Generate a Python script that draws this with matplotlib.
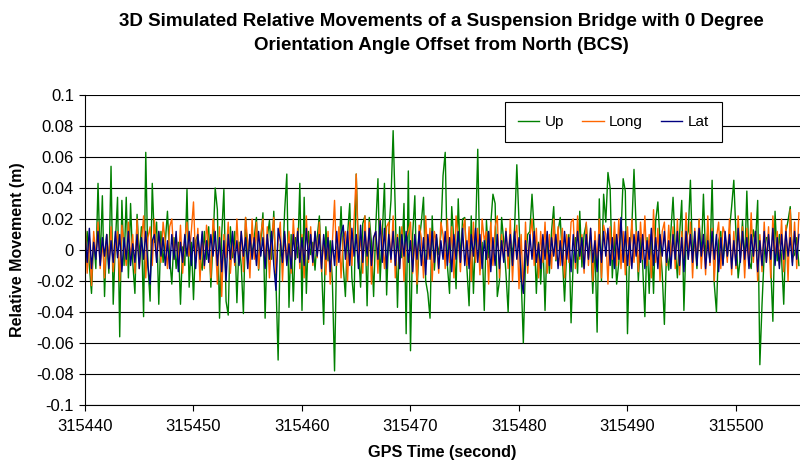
import numpy as np
import matplotlib
matplotlib.use("Agg")
from matplotlib import pyplot as plt
from matplotlib.ticker import FormatStrFormatter, MultipleLocator

plt.rcParams["font.family"] = ["Liberation Sans", "DejaVu Sans"]
plt.rcParams["axes.unicode_minus"] = False

# GPS time: 5 samples per second starting at 315440
t_start = 315440
t_step = 0.2

# relative movements in mm, 5 values per second
up_mm = [
    -5, 12, -10, -28, 8,   -12, 43, -8, 35, -30,   10, -15, 54, -35, 5,
    34, -56, 32, -10, 34,  -18, 30, -8, -28, 23,   -5, 15, -43, 63, -10,
    -33, 43, 5, 18, -35,   12, -8, 5, 25, -5,      -22, 8, -12, 5, -35,
    2, -10, 39, -24, 5,    -32, 6, 10, -5, -13,    12, -6, 15, -24, 5,
    40, 26, -44, 10, 39,   -33, -42, 15, -5, 12,   -34, 5, -10, -41, 21,
    -8, 10, -3, 8, 21,     -13, 5, 24, -44, 8,     19, -6, 25, -20, -71,
    4, -10, 25, 49, -37,   10, -33, 8, -5, 43,     -39, 34, -28, 12, -3,
    5, -13, 8, 22, -10,    -48, 15, -7, 6, -20,    -78, 2, -5, 28, -10,
    -30, 10, 30, -18, -34, 49, 0, -24, 17, 22,     -36, 21, 5, -30, 15,
    46, -20, 10, 43, -29,  12, 32, 77, 25, -37,    15, -5, 30, -54, 51,
    -65, 10, 35, -28, 5,   18, 34, -20, -28, -44,   22, -13, 8, -3, 10,
    48, 63, -10, -28, 28,  5, -25, 33, -8, 20,     21, -12, -36, 22, -28,
    10, 65, -13, 5, -39,   19, -5, 17, 36, 30,     -30, -20, 21, 5, -15,
    -40, 6, -3, 15, 55,    19, -18, -60, -7, 10,   12, 36, 12, -28, 5,
    -22, 8, -39, 10, -15,  12, 28, -7, 12, 21,     -5, -33, 0, 10, -47,
    -7, 8, -15, 25, -11,   10, 17, -5, 8, -28,     5, -53, 33, -20, 36,
    18, 50, 40, -18, 10,   -22, -8, 10, 46, 38,    -54, 0, 15, 52, 14,
    -20, 8, -10, -43, 8,   -28, 10, -28, 19, 31,   5, -15, -48, 0, -13,
    12, 34, 2, -18, 10,    32, -39, 6, 12, 45,     -7, 8, -12, 19, -5,
    36, -5, 12, -8, 45,    -22, -40, 6, 12, -9,    8, -5, 13, 28, 45,
    10, -18, -5, 19, -10,  38, -7, -12, 13, 5,     32, -74, -35, -3, 8,
    8, -10, -46, 25, -7,   10, -5, -35, 12, 19,    28, -5, -3, 8, -10,
]

long_mm = [
    21, -15, 8, -23, 12,   -5, 18, -12, 6, -18,    10, -8, 15, -14, 3,
    12, -20, 16, 4, -10,   18, -6, 10, -15, 20,    -12, 5, 22, -18, 8,
    15, -10, 20, -5, 12,   -8, 18, 5, -12, 15,     20, -6, 10, -10, 16,
    -15, 8, 18, -4, 12,    31, -8, 14, -20, 10,    -12, 16, 5, -18, 20,
    8, -22, 15, -30, 10,   -5, 18, -15, 6, -10,    20, -8, 12, -14, 21,
    5, -18, 20, -6, 18,    -12, 10, 20, -10, 15,   -18, 8, 21, -15, 6,
    18, -20, 10, -8, 12,   -15, 20, -6, 14, -12,   10, -18, 22, -8, 15,
    -10, 12, -5, 18, -14,  8, -16, 12, -22, 5,     32, -10, 15, -18, 8,
    12, -20, 18, -10, 20,  49, -8, 10, -15, 22,    -10, 18, -22, 8, 12,
    -15, 20, 5, -12, 15,   18, -8, 22, -18, 10,    -12, 15, -20, 8, 12,
    18, -15, 10, -22, 16,  8, -18, 22, -6, 14,     -20, 12, 5, -15, 18,
    10, -12, 20, -8, 15,   -18, 22, 8, -14, 12,    20, -10, 15, -20, 18,
    -8, 14, -16, 20, 6,    12, -22, 18, -10, 15,   22, -18, 10, -6, 14,
    -12, 20, -20, 8, 16,   -25, 10, -28, 18, -15,  8, 20, -10, 14, -18,
    12, -8, 18, -15, 10,   -12, 20, -6, 15, -10,   14, -18, 10, -8, 18,
    20, -12, 22, -6, 10,   -15, 18, -10, 14, -20,  12, -8, 20, -18, 16,
    10, -22, 15, -6, 18,   -10, 20, -12, 12, -16,  15, -10, 20, -8, 12,
    -14, 18, -6, 22, -10,  10, -18, 26, -8, 14,    -20, 12, 18, -10, 16,
    -8, 15, -12, 20, -16,  12, -10, 24, -6, 18,    -18, 14, -8, 20, -12,
    10, -16, 22, -10, 14,  -20, 8, 18, -12, 15,    10, -8, 20, -16, 12,
    -12, 22, -6, 15, -18,  14, -10, 24, -8, 12,    -20, 10, -14, 18, -8,
    15, -18, 22, -6, 12,   -10, 20, -14, 16, -20,  26, -8, 18, -12, 24,
]

lat_mm = [
    10, -8, 14, -12, 5,    -6, 12, -10, 8, -4,     10, -12, 6, -8, 12,
    -5, 10, -14, 8, -6,    12, -10, 4, -8, 10,     -12, 8, -6, 12, -10,
    -22, 6, 10, -8, 12,    -4, 8, -10, 6, -12,     10, -6, 12, -14, 5,
    -8, 10, -4, 12, -10,   8, -12, 10, -6, 12,     -10, 6, -8, 10, -4,
    12, -10, 8, -14, 6,    -20, 10, -6, 12, -8,    6, -10, 12, -4, 8,
    -12, 10, -6, 8, -10,   12, -4, 8, -12, 10,     -6, 12, -10, -26, 14,
    6, -8, 12, -10, 4,     -12, 10, -6, 12, -8,    8, -10, 14, -6, 10,
    -8, 12, -4, 10, -12,   10, -6, 8, -14, 6,      -10, 12, -8, 10, 16,
    -6, 12, -10, 14, -4,   10, -12, 16, -8, 12,    -4, 14, -10, 8, 12,
    -6, 19, -8, 14, -12,   10, -6, 12, -10, 8,     -12, 10, -4, 12, -8,
    6, -14, 10, -6, 12,    -10, 8, -16, 10, -6,    12, -8, 10, -12, 6,
    -6, 12, -10, 8, -14,   10, -6, 12, -8, 14,     -10, 6, -12, 10, -4,
    14, -8, 10, -12, 6,    -6, 12, -14, 8, -10,    10, -12, 6, -8, 12,
    -4, 10, -10, 12, -6,   8, -18, -28, 6, -10,    10, -6, 12, -8, 4,
    -12, 10, -6, 12, -10,  8, -4, 10, -12, 6,      -10, 12, -6, 8, -14,
    10, -8, 12, -4, 8,     -12, 10, -6, 14, -8,    6, -14, 10, -8, 12,
    -4, 14, -10, 8, -12,   10, -6, 21, -8, 12,     -10, 8, -12, 10, -4,
    12, -8, 10, -12, 6,    -6, 14, -10, 8, -12,    10, -4, 12, -8, 6,
    -12, 10, -6, 12, -10,  8, -14, 12, -6, 10,     -8, 12, -10, 14, -4,
    10, -12, 6, -8, 12,    -6, 10, -14, 8, -10,    12, -4, 10, -12, 6,
    -10, 14, -8, 12, -6,   8, -12, 10, -4, 12,     -14, 6, -10, 12, -8,
    10, -6, 14, -10, 8,    -12, 10, -6, 12, -4,    8, -10, 12, -6, 10,
]

t = t_start + t_step * np.arange(len(up_mm))
up = np.array(up_mm) / 1000
lon = np.array(long_mm) / 1000
lat = np.array(lat_mm) / 1000

fig = plt.figure(figsize=(8, 4.66), dpi=100)
ax = fig.add_axes([85 / 800, 1 - 405 / 466, 715 / 800, 310 / 466])

ax.plot(t, up, color="#008000", lw=1.0, label="Up")
ax.plot(t, lon, color="#FF6600", lw=1.0, label="Long")
ax.plot(t, lat, color="#000080", lw=1.0, label="Lat")

ax.set_xlim(315440, 315505.9)
ax.set_ylim(-0.1, 0.1)
ax.yaxis.set_major_locator(MultipleLocator(0.02))
ax.xaxis.set_major_locator(MultipleLocator(10))
ax.xaxis.set_major_formatter(FormatStrFormatter("%d"))
ax.yaxis.set_major_formatter(plt.FuncFormatter(lambda v, p: "%g" % (round(v, 2) + 0.0)))
ax.yaxis.grid(True, color="black", lw=0.8)
ax.set_axisbelow(True)
for s in ["top", "right"]:
    ax.spines[s].set_visible(False)
ax.tick_params(labelsize=12, length=4, width=0.8, direction="out")
ax.tick_params(axis="x", pad=6)
ax.tick_params(axis="y", pad=4)

ax.set_xlabel("GPS Time (second)", fontsize=11.7, fontweight="bold", labelpad=8)
ax.set_ylabel("Relative Movement (m)", fontsize=11.5, fontweight="bold", labelpad=8)

fig.text(0.552, 1 - 22 / 466, "3D Simulated Relative Movements of a Suspension Bridge with 0 Degree",
         ha="center", va="center", fontsize=13.5, fontweight="bold")
fig.text(0.552, 1 - 45 / 466, "Orientation Angle Offset from North (BCS)",
         ha="center", va="center", fontsize=13.5, fontweight="bold")

leg = ax.legend(loc="upper left", bbox_to_anchor=(0.587, 0.977), ncol=3, fontsize=11,
                frameon=True, fancybox=False, edgecolor="black", framealpha=1,
                handlelength=1.4, handletextpad=0.35, columnspacing=1.2,
                borderpad=0.85, borderaxespad=0)
leg.get_frame().set_linewidth(0.8)

fig.savefig("out.png", dpi=100)
